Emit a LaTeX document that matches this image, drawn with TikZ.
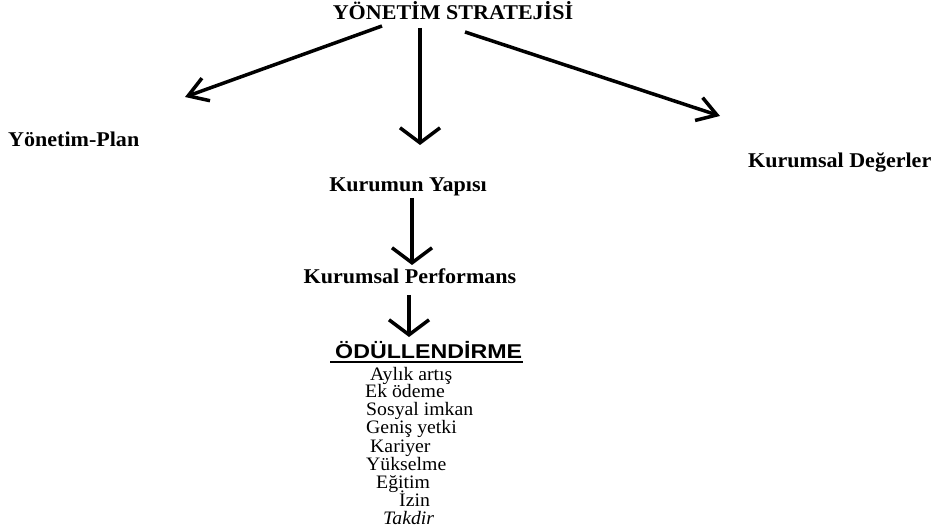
\documentclass[tikz,border=0pt]{standalone}
\usepackage{fontspec}
\setmainfont{Liberation Serif}
\newfontfamily\arialfont{Liberation Sans}
\usetikzlibrary{arrows.meta,calc}

\tikzset{
  head/.style={font=\fontsize{21}{24}\selectfont\bfseries, xscale=1.05, inner sep=0pt},
  item/.style={font=\fontsize{19}{22}\selectfont, xscale=1.04, inner sep=0pt, anchor=base west},
  flow/.style={line width=3.5pt, -{Straight Barb[length=15pt,width=40pt]}},
  slant/.style={line width=3.5pt, -{Straight Barb[length=19pt,width=24pt]}},
}

\begin{document}
\begin{tikzpicture}[x=1pt,y=-1pt]
  \useasboundingbox[fill=white] (0,0) rectangle (935,529);

  % headings
  \node[head, anchor=base] (strat) at (453,20) {YÖNETİM STRATEJİSİ};
  \node[head, anchor=base west] (plan) at (8,147) {Yönetim-Plan};
  \node[head, anchor=base west] (deger) at (748,168) {Kurumsal Değerler};
  \node[head, anchor=base] (yapi) at (408,192) {Kurumun Yapısı};
  \node[head, anchor=base] (perf) at (410,284) {Kurumsal Performans};
  \node[font=\fontsize{20}{23}\selectfont\arialfont\bfseries, xscale=1.16, inner sep=0pt, anchor=base west]
    (odul) at (335,359) {ÖDÜLLENDİRME};
  \draw[line width=1.6pt] ($(odul.base west)+(-5,3)$) -- ($(odul.base east)+(1,3)$);

  % reward list
  \node[item] (i1) at (370,381) {Aylık artış};
  \node[item] (i2) at (365,398) {Ek ödeme};
  \node[item] (i3) at (366,416) {Sosyal imkan};
  \node[item] (i4) at (366,434) {Geniş yetki};
  \node[item] (i5) at (370,452) {Kariyer};
  \node[item] (i6) at (366,470) {Yükselme};
  \node[item] (i7) at (376,488) {Eğitim};
  \node[item] (i8) at (399,506) {İzin};
  \node[item, font=\fontsize{19}{22}\selectfont\itshape] (i9) at (383,524) {Takdir};

  % arrow ends
  \coordinate (planS) at (382,26);
  \coordinate (planE) at (185,97);
  \coordinate (yapiS) at (420,28);
  \coordinate (yapiE) at (420,145);
  \coordinate (degerS) at (465,32);
  \coordinate (degerE) at (720,116);
  \coordinate (perfS) at (412,198);
  \coordinate (perfE) at (412,265);
  \coordinate (odulS) at (409,295);
  \coordinate (odulE) at (409,337);

  \draw[slant] (planS) -- (planE);
  \draw[flow] (yapiS) -- (yapiE);
  \draw[slant] (degerS) -- (degerE);
  \draw[flow] (perfS) -- (perfE);
  \draw[flow] (odulS) -- (odulE);
\end{tikzpicture}
\end{document}
